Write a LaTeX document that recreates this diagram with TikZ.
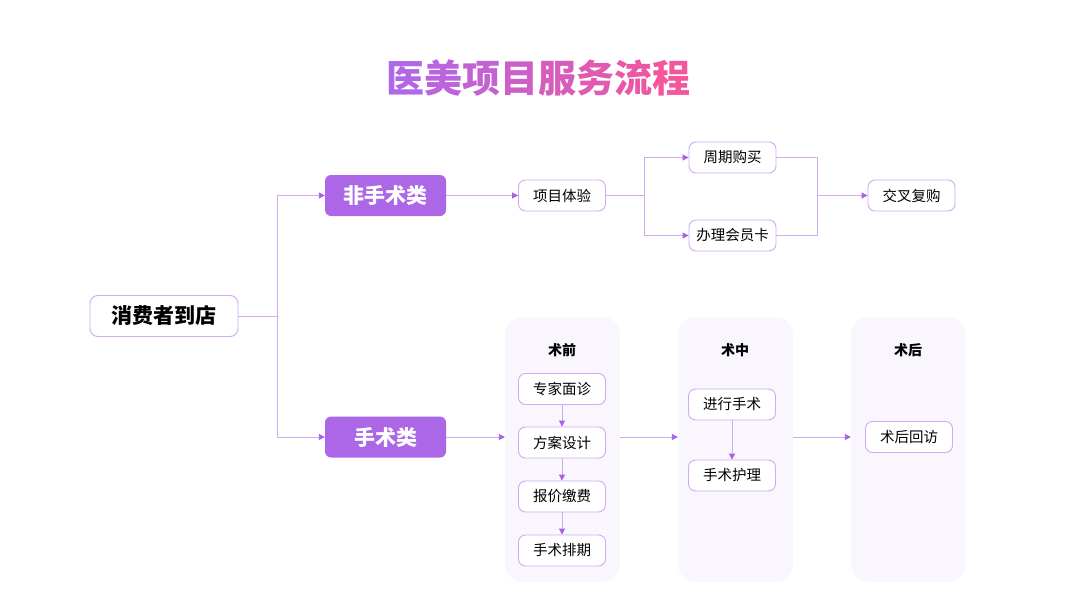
\documentclass[tikz,border=0pt]{standalone}
\usepackage{fontspec}
\setmainfont{Noto Sans CJK SC}
\usetikzlibrary{arrows.meta}
\definecolor{lineC}{HTML}{D0AAF4}
\definecolor{tipC}{HTML}{A95FE8}
\definecolor{fillC}{HTML}{AB67E6}
\definecolor{panelC}{HTML}{F9F6FE}
\definecolor{tA}{HTML}{B067E8}
\definecolor{tB}{HTML}{F5559A}
\begin{document}
\begin{tikzpicture}[x=1pt,y=-1pt,
  conn/.style={draw=lineC, line width=0.9pt},
  arr/.style={conn, -{Triangle[length=6pt,width=6pt,color=tipC]}},
  box/.style={draw=lineC, line width=0.9pt, rounded corners=7pt, fill=white, minimum width=87pt, minimum height=31pt, inner sep=0pt, font=\fontsize{14.5}{16}\selectfont},
  catbox/.style={fill=fillC, draw=none, rounded corners=6pt, minimum width=121pt, minimum height=41pt, inner sep=0pt, text=white, font=\fontsize{21}{24}\selectfont\bfseries},
  startbox/.style={draw=lineC, line width=0.9pt, fill=white, rounded corners=8pt, minimum width=148pt, minimum height=41pt, inner sep=0pt, font=\fontsize{21}{24}\selectfont\bfseries},
  panel/.style={fill=panelC, draw=none, rounded corners=18pt, minimum width=115pt, minimum height=265pt, inner sep=0pt},
  ptitle/.style={inner sep=0pt, font=\fontsize{14}{16}\selectfont\bfseries}]
\useasboundingbox (0,0) rectangle (1080,608);
\fill[white] (0,0) rectangle (1080,608);
% title
\node (title) at (538,78) {\fontsize{38}{42}\selectfont\bfseries
  \textcolor{tA}{医}\textcolor{tB!14!tA}{美}\textcolor{tB!28!tA}{项}\textcolor{tB!43!tA}{目}\textcolor{tB!57!tA}{服}\textcolor{tB!71!tA}{务}\textcolor{tB!86!tA}{流}\textcolor{tB}{程}};
% panels
\node[panel] (p1) at (562.5,449.5) {};
\node[panel] (p2) at (735.5,449.5) {};
\node[panel] (p3) at (908.5,449.5) {};
\node[ptitle] (t1) at (562,350) {术前};
\node[ptitle] (t2) at (735,350) {术中};
\node[ptitle] (t3) at (908,350) {术后};
% main nodes
\node[startbox] (st) at (164,316) {消费者到店};
\node[catbox] (fs) at (385.5,195.5) {非手术类};
\node[catbox] (ss) at (385.5,437) {手术类};
\node[box] (xm) at (562,195.5) {项目体验};
\node[box] (zq) at (732.5,157.5) {周期购买};
\node[box] (bl) at (732.5,235.5) {办理会员卡};
\node[box] (jc) at (911.5,195.5) {交叉复购};
\node[box] (a1) at (562,389) {专家面诊};
\node[box] (a2) at (562,442.5) {方案设计};
\node[box] (a3) at (562,496.5) {报价缴费};
\node[box] (a4) at (562,550.5) {手术排期};
\node[box] (b1) at (732,404.5) {进行手术};
\node[box] (b2) at (732,475.5) {手术护理};
\node[box] (c1) at (909,437) {术后回访};
% connectors
\coordinate (j1) at (277,316);
\draw[conn] (st.east) -- (j1);
\draw[arr] (j1) |- (fs.west);
\draw[arr] (j1) |- (ss.west);
\draw[arr] (fs.east) -- (xm.west);
\coordinate (j2) at (644,195.5);
\draw[conn] (xm.east) -- (j2);
\draw[arr] (j2) |- (zq.west);
\draw[arr] (j2) |- (bl.west);
\coordinate (j3) at (817,195.5);
\draw[conn] (zq.east) -| (j3);
\draw[conn] (bl.east) -| (j3);
\draw[arr] (j3) -- (jc.west);
\draw[arr] (ss.east) -- (ss.east -| p1.west);
\draw[arr] (ss.east -| p1.east) -- (ss.east -| p2.west);
\draw[arr] (ss.east -| p2.east) -- (ss.east -| p3.west);
\draw[arr] (a1.south) -- (a2.north);
\draw[arr] (a2.south) -- (a3.north);
\draw[arr] (a3.south) -- (a4.north);
\draw[arr] (b1.south) -- (b2.north);
\end{tikzpicture}
\end{document}
